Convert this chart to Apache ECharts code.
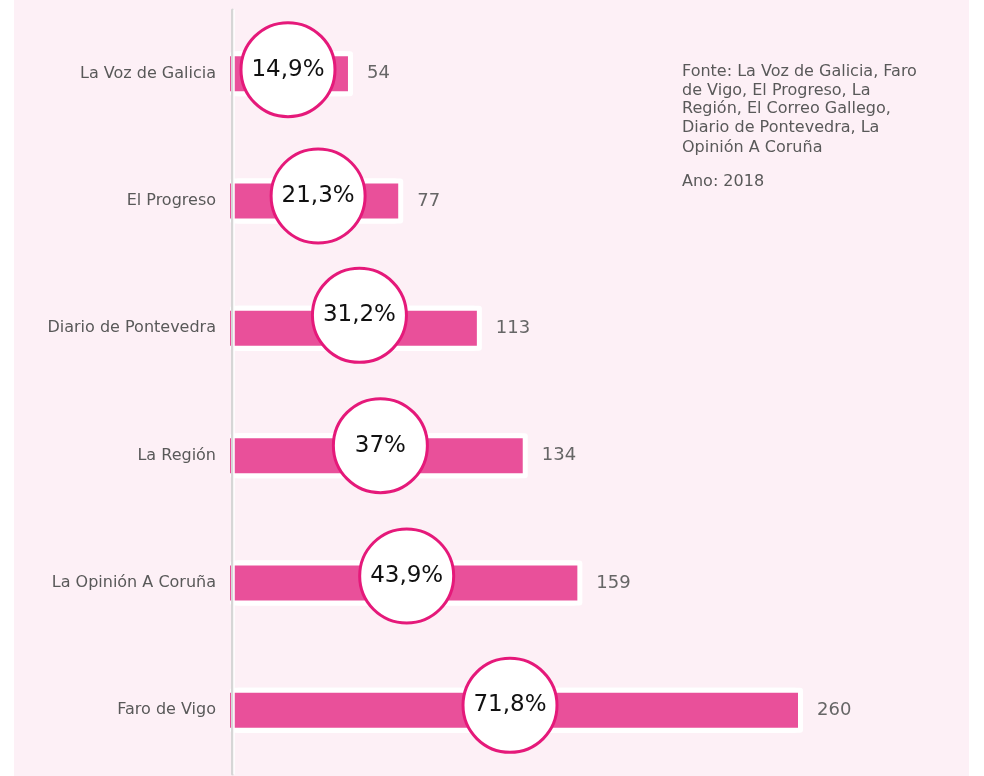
<!DOCTYPE html>
<html>
<head>
<meta charset="utf-8">
<script src="https://cdn.jsdelivr.net/npm/echarts@6/dist/echarts.min.js"></script>
<style>
  html, body { margin: 0; padding: 0; background: #fff; }
  #main { width: 984px; height: 776px; }
</style>
</head>
<body>
<div id="main"></div>
<script>
var categories = ['La Voz de Galicia', 'El Progreso', 'Diario de Pontevedra', 'La Región', 'La Opinión A Coruña', 'Faro de Vigo'];
var counts = [54, 77, 113, 134, 159, 260];
var shares = ['14,9%', '21,3%', '31,2%', '37%', '43,9%', '71,8%'];

var FONT = 'DejaVu Sans';

var myChart = echarts.init(document.getElementById('main'));

// circles sit roughly on the middle of each bar, nudged a little by hand like the original
var nudges = [[-1, -4], [4, -5], [6, -13], [4, -10], [3, -7], [-4, -5]];
var circleData = counts.map(function (v, i) {
    return { value: [v / 2, i], symbolOffset: nudges[i], label: { formatter: shares[i] } };
});

var option = {
    backgroundColor: '#fff',
    textStyle: { fontFamily: FONT },
    graphic: [
        {
            type: 'rect', z: -10, silent: true,
            shape: { x: 14, y: 0, width: 955, height: 776 },
            style: { fill: '#fdf0f6' }
        },
        {
            type: 'text', left: 682, top: 63,
            style: {
                text: 'Fonte: La Voz de Galicia, Faro\nde Vigo, El Progreso, La\nRegión, El Correo Gallego,\nDiario de Pontevedra, La',
                font: '16px "DejaVu Sans"', fill: '#595959', lineHeight: 18.4
            }
        },
        {
            type: 'text', left: 682, top: 140,
            style: { text: 'Opinión A Coruña', font: '16px "DejaVu Sans"', fill: '#595959' }
        },
        {
            type: 'text', left: 682, top: 174,
            style: { text: 'Ano: 2018', font: '16px "DejaVu Sans"', fill: '#595959' }
        }
    ],
    grid: { left: 230, width: 568, top: 10, bottom: 2 },
    xAxis: {
        type: 'value', min: 0, max: 260,
        show: false
    },
    yAxis: [
        {
            type: 'category',
            position: 'left',
            inverse: true,
            offset: -2,
            z: 5,
            data: categories,
            axisLine: { lineStyle: { color: '#d6d6d6', width: 3 } },
            axisTick: { show: false },
            axisLabel: { color: '#595959', fontSize: 16, fontFamily: FONT, margin: 16 }
        },
        {
            // second axis: thin white line beside the grey one, and its own bar layout
            type: 'category',
            position: 'left',
            inverse: true,
            offset: -4,
            z: 5,
            data: categories,
            axisLine: { lineStyle: { color: '#ffffff', width: 1.5 } },
            axisTick: { show: false },
            axisLabel: { show: false }
        }
    ],
    series: [
        {
            // white outline behind each bar
            type: 'bar',
            yAxisIndex: 1,
            data: counts,
            barWidth: 45,
            silent: true,
            itemStyle: {
                color: '#ffffff', borderRadius: 3,
                shadowColor: '#ffffff', shadowOffsetX: 5, shadowBlur: 0
            },
            z: 1
        },
        {
            type: 'bar',
            data: counts,
            barWidth: 35,
            itemStyle: { color: '#e9509a' },
            label: {
                show: true, position: 'right', distance: 19,
                color: '#666', fontSize: 18, fontFamily: FONT
            },
            z: 2
        },
        {
            type: 'scatter',
            data: circleData,
            symbol: 'circle',
            symbolSize: 94,
            itemStyle: { color: '#ffffff', borderColor: '#e5197a', borderWidth: 3, opacity: 1 },
            label: {
                show: true, position: 'inside',
                color: '#111', fontSize: 23, fontFamily: FONT
            },
            z: 3
        }
    ]
};

myChart.setOption(option);
</script>
</body>
</html>
